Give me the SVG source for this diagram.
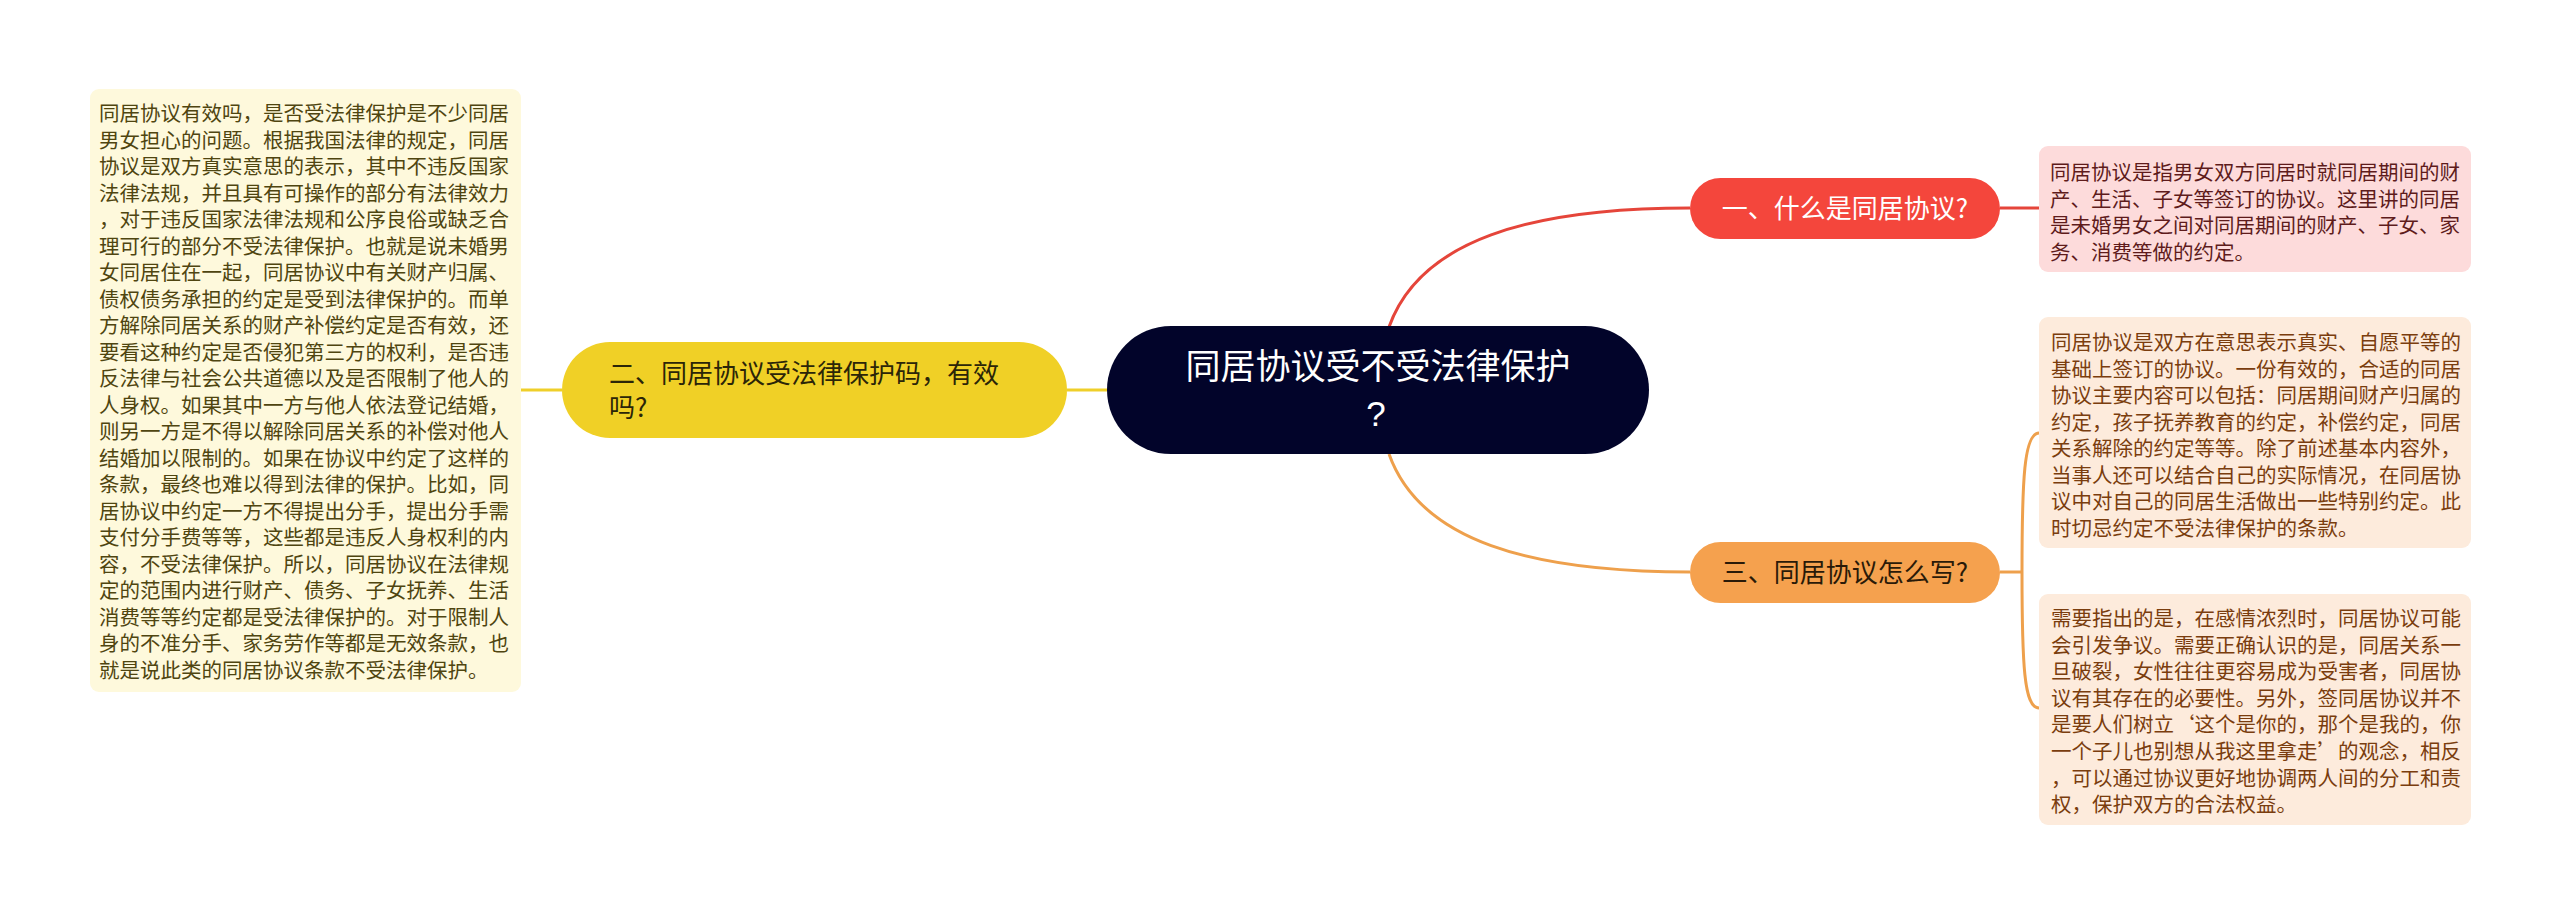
<svg xmlns="http://www.w3.org/2000/svg" width="2560" height="915" viewBox="0 0 2560 915">
<style>
text{font-family:"Noto Sans CJK SC","Noto Sans",sans-serif;}
.body{font-size:20.5px;}
.lt{fill:#4f4510;}
.pk{fill:#5e1b1b;}
.og{fill:#7a3d0e;}
.br{font-size:26px;}
.conn{fill:none;stroke-width:3;}
</style>
<rect width="2560" height="915" fill="#ffffff"/>
<g id="connectors">
<path class="conn" stroke="#e5453a" d="M1389,327 C1420,240 1530,208 1690,208"/>
<path class="conn" stroke="#e5453a" d="M2000,208 H2039"/>
<path class="conn" stroke="#eea04c" d="M1389,454 C1420,541 1530,572 1690,572"/>
<path class="conn" stroke="#eea04c" d="M2000,572 H2022"/>
<path class="conn" stroke="#eea04c" d="M2022,572 C2022,480 2024,433 2039,433"/>
<path class="conn" stroke="#eea04c" d="M2022,572 C2022,664 2024,708 2039,708"/>
<path class="conn" stroke="#efcf2a" d="M1067,390 H1107"/>
<path class="conn" stroke="#efcf2a" d="M562,390 H519"/>
</g>
<g id="center">
<rect x="1107" y="326" width="542" height="128" rx="64" fill="#02042a"/>
<text x="1378" y="379" font-size="35" fill="#ffffff" text-anchor="middle">同居协议受不受法律保护</text>
<text x="1376" y="426" font-size="35" fill="#ffffff" text-anchor="middle" style="font-family:'Liberation Sans',sans-serif">?</text>
</g>
<g id="node-1">
<rect x="1690" y="178" width="310" height="61" rx="30.5" fill="#f4463c"/>
<text class="br" x="1845" y="218" fill="#ffffff" text-anchor="middle">一、什么是同居协议?</text>
</g>
<g id="node-1-detail">
<rect x="2039" y="146" width="432" height="126" rx="9" fill="#fddbdb"/>
<text class="body pk" x="2050"><tspan x="2050" y="180">同居协议是指男女双方同居时就同居期间的财</tspan><tspan x="2050" y="206.6">产、生活、子女等签订的协议。这里讲的同居</tspan><tspan x="2050" y="233.2">是未婚男女之间对同居期间的财产、子女、家</tspan><tspan x="2050" y="259.8">务、消费等做的约定。</tspan></text>
</g>
<g id="node-2">
<rect x="562" y="342" width="505" height="96" rx="48" fill="#f0d026"/>
<text class="br" fill="#2b2508"><tspan x="609" y="383">二、同居协议受法律保护码，有效</tspan><tspan x="609" y="417">吗?</tspan></text>
</g>
<g id="node-2-detail">
<rect x="90" y="89" width="431" height="603" rx="9" fill="#fef9dc"/>
<text class="body lt"><tspan x="99" y="121">同居协议有效吗，是否受法律保护是不少同居</tspan><tspan x="99" y="147.5">男女担心的问题。根据我国法律的规定，同居</tspan><tspan x="99" y="174">协议是双方真实意思的表示，其中不违反国家</tspan><tspan x="99" y="200.5">法律法规，并且具有可操作的部分有法律效力</tspan><tspan x="99" y="227">，对于违反国家法律法规和公序良俗或缺乏合</tspan><tspan x="99" y="253.5">理可行的部分不受法律保护。也就是说未婚男</tspan><tspan x="99" y="280">女同居住在一起，同居协议中有关财产归属、</tspan><tspan x="99" y="306.5">债权债务承担的约定是受到法律保护的。而单</tspan><tspan x="99" y="333">方解除同居关系的财产补偿约定是否有效，还</tspan><tspan x="99" y="359.5">要看这种约定是否侵犯第三方的权利，是否违</tspan><tspan x="99" y="386">反法律与社会公共道德以及是否限制了他人的</tspan><tspan x="99" y="412.5">人身权。如果其中一方与他人依法登记结婚，</tspan><tspan x="99" y="439">则另一方是不得以解除同居关系的补偿对他人</tspan><tspan x="99" y="465.5">结婚加以限制的。如果在协议中约定了这样的</tspan><tspan x="99" y="492">条款，最终也难以得到法律的保护。比如，同</tspan><tspan x="99" y="518.5">居协议中约定一方不得提出分手，提出分手需</tspan><tspan x="99" y="545">支付分手费等等，这些都是违反人身权利的内</tspan><tspan x="99" y="571.5">容，不受法律保护。所以，同居协议在法律规</tspan><tspan x="99" y="598">定的范围内进行财产、债务、子女抚养、生活</tspan><tspan x="99" y="624.5">消费等等约定都是受法律保护的。对于限制人</tspan><tspan x="99" y="651">身的不准分手、家务劳作等都是无效条款，也</tspan><tspan x="99" y="677.5">就是说此类的同居协议条款不受法律保护。</tspan></text>
</g>
<g id="node-3">
<rect x="1690" y="542" width="310" height="61" rx="30.5" fill="#f5a14e"/>
<text class="br" x="1845" y="582" fill="#2a1a08" text-anchor="middle">三、同居协议怎么写?</text>
</g>
<g id="node-3-detail-a">
<rect x="2039" y="317" width="432" height="231" rx="9" fill="#fdebdc"/>
<text class="body og"><tspan x="2051" y="350">同居协议是双方在意思表示真实、自愿平等的</tspan><tspan x="2051" y="376.5">基础上签订的协议。一份有效的，合适的同居</tspan><tspan x="2051" y="403">协议主要内容可以包括：同居期间财产归属的</tspan><tspan x="2051" y="429.5">约定，孩子抚养教育的约定，补偿约定，同居</tspan><tspan x="2051" y="456">关系解除的约定等等。除了前述基本内容外，</tspan><tspan x="2051" y="482.5">当事人还可以结合自己的实际情况，在同居协</tspan><tspan x="2051" y="509">议中对自己的同居生活做出一些特别约定。此</tspan><tspan x="2051" y="535.5">时切忌约定不受法律保护的条款。</tspan></text>
</g>
<g id="node-3-detail-b">
<rect x="2039" y="594" width="432" height="231" rx="9" fill="#fdebdc"/>
<text class="body og"><tspan x="2051" y="626">需要指出的是，在感情浓烈时，同居协议可能</tspan><tspan x="2051" y="652.6">会引发争议。需要正确认识的是，同居关系一</tspan><tspan x="2051" y="679.2">旦破裂，女性往往更容易成为受害者，同居协</tspan><tspan x="2051" y="705.8">议有其存在的必要性。另外，签同居协议并不</tspan><tspan x="2051" y="732.4">是要人们树立‘这个是你的，那个是我的，你</tspan><tspan x="2051" y="759">一个子儿也别想从我这里拿走’的观念，相反</tspan><tspan x="2051" y="785.6">，可以通过协议更好地协调两人间的分工和责</tspan><tspan x="2051" y="812.2">权，保护双方的合法权益。</tspan></text>
</g>
</svg>
